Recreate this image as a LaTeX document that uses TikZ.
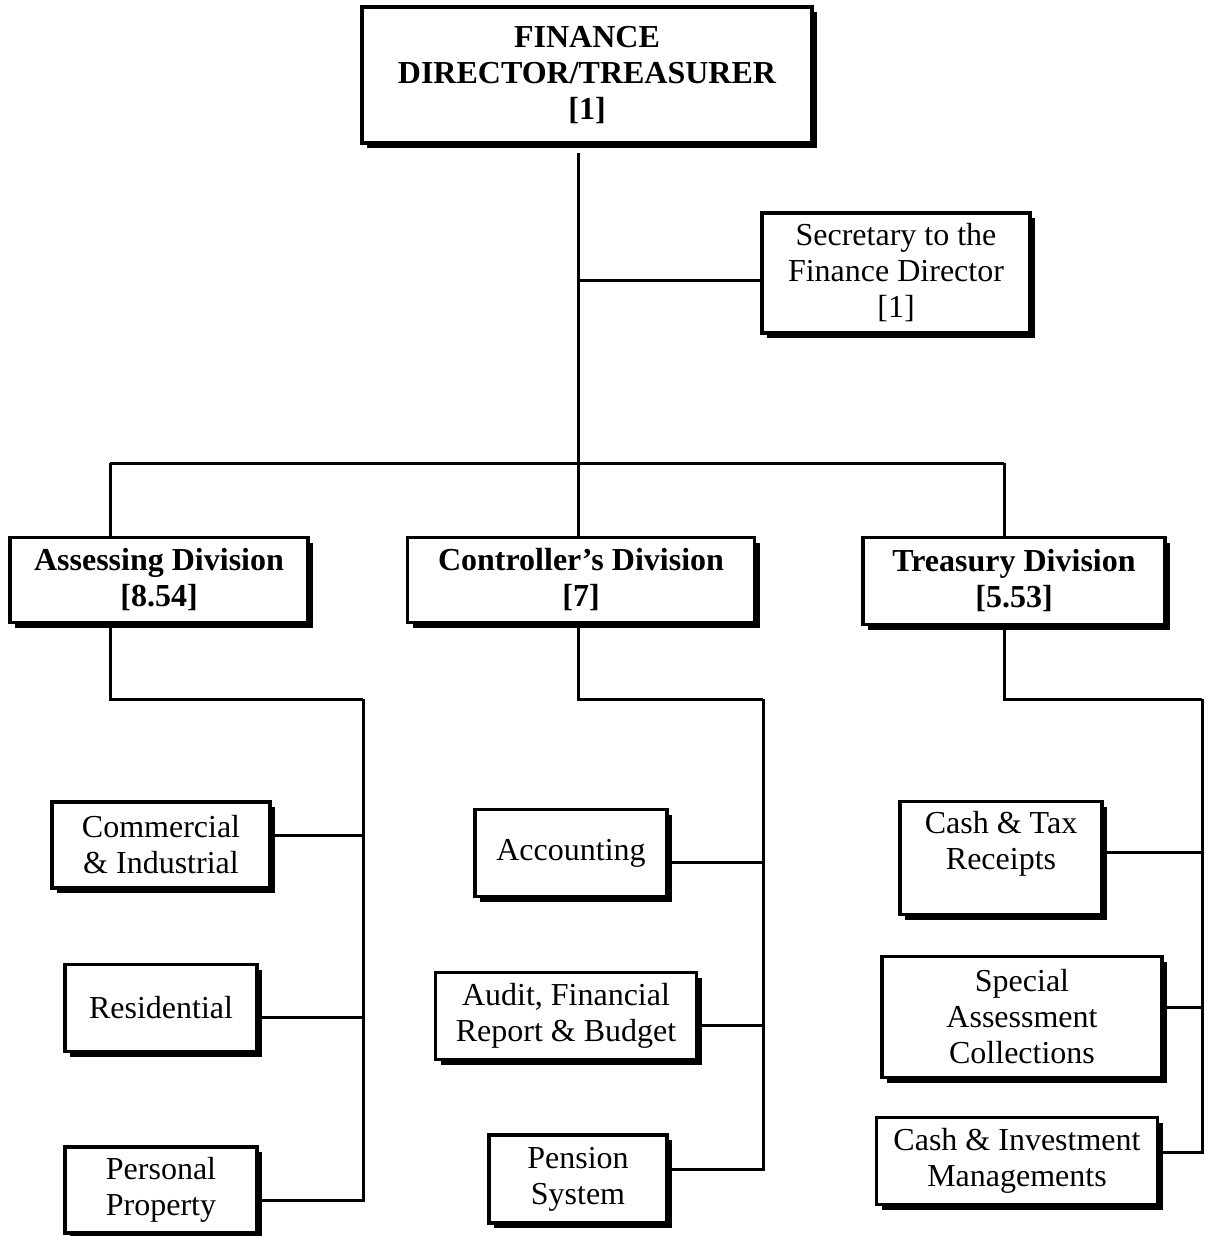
\documentclass[tikz,border=0pt]{standalone}
\usepackage{fontspec}
\setmainfont{Liberation Serif}
\usetikzlibrary{positioning, shadows}

\begin{document}
\begin{tikzpicture}[
    x=0.5pt, y=-0.5pt,
    unitbox/.style={rectangle, draw=black, line width=1.9pt, fill=white, align=center,
                    inner sep=0pt, font=\fontsize{16}{18}\selectfont,
                    drop shadow={shadow xshift=2.6pt, shadow yshift=-2.6pt, fill=black, opacity=1}},
    headbox/.style={unitbox, font=\fontsize{16}{18}\selectfont\bfseries},
    link/.style={line width=1.5pt}
]
\useasboundingbox (0,0) rectangle (1204,1236);

% top of the chart
\node[headbox, minimum width=225pt, minimum height=68pt] (Director) at (587,75)
    {FINANCE\\DIRECTOR/TREASURER\\{[1]}};
\node[unitbox, minimum width=134pt, minimum height=60pt] (Secretary) at (896,273)
    {Secretary to the\\Finance Director\\{[1]}};

% divisions
\node[headbox, minimum width=149pt, minimum height=42.5pt] (Assessing) at (159,580)
    {Assessing Division\\{[8.54]}};
\node[headbox, minimum width=173.5pt, minimum height=42.5pt] (Controller) at (581,580)
    {Controller's Division\\{[7]}};
\node[headbox, minimum width=151pt, minimum height=43.5pt] (Treasury) at (1014,581)
    {Treasury Division\\{[5.53]}};

% sections
\node[unitbox, minimum width=109pt, minimum height=43pt] (Commercial) at (161,845)
    {Commercial\\\& Industrial};
\node[unitbox, minimum width=96pt, minimum height=43.5pt] (Residential) at (161,1008)
    {Residential};
\node[unitbox, minimum width=96pt, minimum height=43pt] (Personal) at (161,1190)
    {Personal\\Property};

\node[unitbox, minimum width=96pt, minimum height=43.5pt] (Accounting) at (571,853)
    {Accounting};
\node[unitbox, minimum width=130.5pt, minimum height=43.5pt] (Audit) at (566,1016)
    {Audit, Financial\\Report \& Budget};
\node[unitbox, minimum width=89pt, minimum height=44pt] (Pension) at (578,1179)
    {Pension\\System};

\node[unitbox, minimum width=101pt, minimum height=56.5pt] (CashTax) at (1001,858)
    {Cash \& Tax\\Receipts\\~};
\node[unitbox, minimum width=140pt, minimum height=60.5pt] (SpecialAssess) at (1022,1017)
    {Special\\Assessment\\Collections};
\node[unitbox, minimum width=140.5pt, minimum height=43.5pt] (CashInvest) at (1017,1161)
    {Cash \& Investment\\Managements};

% junctions
\coordinate (BusLeft) at (110,463);
\coordinate (BusMid) at (578,463);
\coordinate (BusRight) at (1004,463);
\coordinate (AssessTurn) at (110,699);
\coordinate (AssessSpine) at (363,699);
\coordinate (CtrlTurn) at (578,699);
\coordinate (CtrlSpine) at (763,699);
\coordinate (TreasTurn) at (1004,699);
\coordinate (TreasSpine) at (1202,699);

\draw[link, shorten <=4pt] (Director.south -| BusMid) -- (BusMid);
\draw[link] ([yshift=-3.5pt]Secretary.west) -- ([yshift=-3.5pt]Secretary.west -| BusMid);
\draw[link] (BusLeft) -- (BusRight);
\draw[link] (BusLeft) -- (BusLeft |- Assessing.north);
\draw[link] (BusMid) -- (BusMid |- Controller.north);
\draw[link] (BusRight) -- (BusRight |- Treasury.north);

% assessing
\draw[link] (AssessTurn |- Assessing.south) -- (AssessTurn) -- (AssessSpine);
\draw[link] ([yshift=5pt]Commercial.east) -- ([yshift=5pt]Commercial.east -| AssessSpine);
\draw[link] ([yshift=-4.5pt]Residential.east) -- ([yshift=-4.5pt]Residential.east -| AssessSpine);
\draw[link] ([yshift=-5pt]Personal.east) -| (AssessSpine);

% controller
\draw[link] (CtrlTurn |- Controller.south) -- (CtrlTurn) -- (CtrlSpine);
\draw[link] ([yshift=-4.5pt]Accounting.east) -- ([yshift=-4.5pt]Accounting.east -| CtrlSpine);
\draw[link] ([yshift=-4.5pt]Audit.east) -- ([yshift=-4.5pt]Audit.east -| CtrlSpine);
\draw[link] ([yshift=5pt]Pension.east) -| (CtrlSpine);

% treasury
\draw[link] (TreasTurn |- Treasury.south) -- (TreasTurn) -- (TreasSpine);
\draw[link] ([yshift=3pt]CashTax.east) -- ([yshift=3pt]CashTax.east -| TreasSpine);
\draw[link] ([yshift=5pt]SpecialAssess.east) -- ([yshift=5pt]SpecialAssess.east -| TreasSpine);
\draw[link] ([yshift=4.5pt]CashInvest.east) -| (TreasSpine);

\end{tikzpicture}
\end{document}
